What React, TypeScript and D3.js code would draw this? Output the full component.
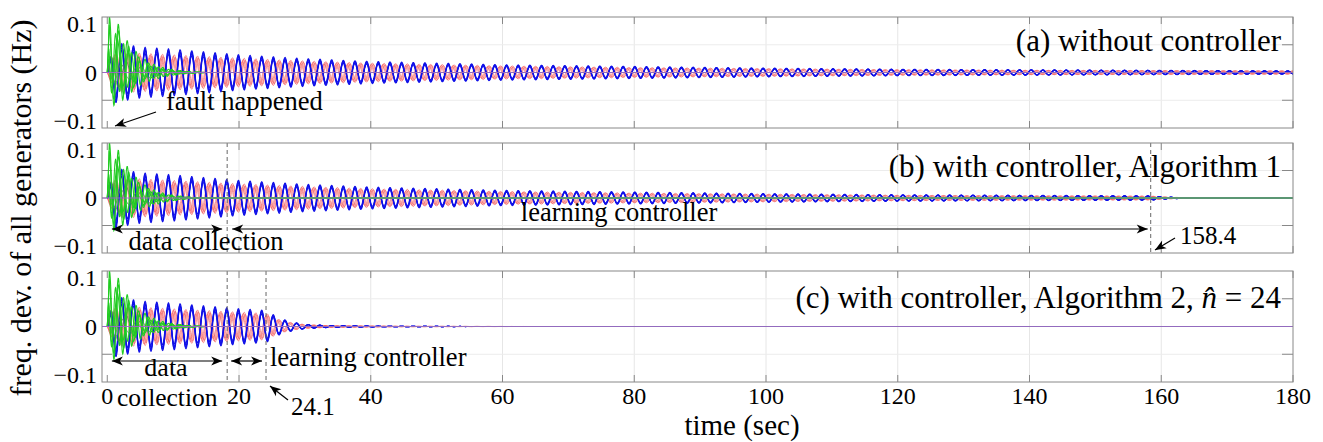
import React, { useEffect, useRef } from "react";
import * as d3 from "d3";

const W = 1323;
const H = 442;

const timeTicks = [0, 20, 40, 60, 80, 100, 120, 140, 160, 180];
const freqTicks = [-0.1, 0, 0.1];
const freqGrid = [-0.05, 0.05];

// envelope of the slow inter-area swing (Hz)
const envTime = [0, 1, 3, 5, 10, 15, 20, 30, 40, 60, 80, 100, 120, 140, 160, 180];
const blueEnv = [0, 0.055, 0.05, 0.046, 0.042, 0.037, 0.032, 0.025, 0.02, 0.014, 0.011, 0.008, 0.006, 0.005, 0.004, 0.003];
const redEnv = [0, 0.035, 0.036, 0.035, 0.032, 0.029, 0.026, 0.021, 0.017, 0.012, 0.009, 0.007, 0.005, 0.004, 0.0035, 0.003];

// fast local modes (green) and the damped grey ones, gone after ~15 s
const greenTime = [0, 0.3, 1.5, 3, 5, 7, 9, 12, 15];
const greenEnv = [0, 0.08, 0.075, 0.05, 0.026, 0.014, 0.007, 0.002, 0];
const greenShift = [0, 0.02, 0.016, 0.008, 0.003, 0.001, 0, 0, 0];
const greyEnv = [0, 0.03, 0.028, 0.02, 0.012, 0.008, 0.004, 0.002, 0];

// decay once the learned controller is switched on (s after switch-on, gain)
const ctrlTime = [0, 2, 4, 6, 10, 20, 40];
const ctrlGain = [1, 0.55, 0.3, 0.16, 0.07, 0.02, 0];

const swingPeriod = 1.77;
const localPeriod = 1.35;

const panelNames = ["(a) without controller", "(b) with controller, Algorithm 1", "(c) with controller, Algorithm 2, "];
const ctrlOn = [null, 158.4, 24.1];
const collectEnd = 18.2;

// several generators per colour group
const bluePhase = [0, 0.1, -0.08, 0.16];
const blueScale = [1, 0.93, 0.86, 0.76];
const redPhase = [0, 0.55, -0.5, 1.0];
const redScale = [1, 0.92, 0.86, 0.76];
const greenPeriod = [1, 1.12, 0.9, 1.25];
const greenPhase = [0, 0.6, 1.3, 2.1];
const greenScale = [1, 0.85, 0.7, 0.6];

const panelBox = [
  { top: 17, bottom: 128 },
  { top: 143, bottom: 253 },
  { top: 271, bottom: 382 },
];

const FONT = "Liberation Serif";

function App() {
  const ref = useRef<SVGSVGElement | null>(null);

  useEffect(() => {
    const svg = d3.select(ref.current);
    svg.selectAll("*").remove();

    const x = d3.scaleLinear().domain([-0.8, 180]).range([102, 1293]);
    const blueA = d3.scaleLinear().domain(envTime).range(blueEnv).clamp(true);
    const redA = d3.scaleLinear().domain(envTime).range(redEnv).clamp(true);
    const greenA = d3.scaleLinear().domain(greenTime).range(greenEnv).clamp(true);
    const greenB = d3.scaleLinear().domain(greenTime).range(greenShift).clamp(true);
    const greyA = d3.scaleLinear().domain(greenTime).range(greyEnv).clamp(true);
    const ctrlA = d3.scaleLinear().domain(ctrlTime).range(ctrlGain).clamp(true);

    const times = d3.range(0, 180.001, 0.05);
    const defs = svg.append("defs");

    panelBox.forEach((box, pi) => {
      const y = d3.scaleLinear().domain([-0.1, 0.1]).range([box.bottom, box.top]);
      const tc = ctrlOn[pi];
      const gain = (t: number) => (tc == null || t < tc ? 1 : ctrlA(t - tc));

      defs
        .append("clipPath")
        .attr("id", `clip${pi}`)
        .append("rect")
        .attr("x", x.range()[0])
        .attr("y", box.top)
        .attr("width", x.range()[1] - x.range()[0])
        .attr("height", box.bottom - box.top);

      const g = svg.append("g");

      // grid
      g.selectAll(".gx")
        .data(timeTicks.filter((d) => d > 0 && d < 180))
        .join("line")
        .attr("x1", (d) => x(d))
        .attr("x2", (d) => x(d))
        .attr("y1", box.top)
        .attr("y2", box.bottom)
        .attr("stroke", "#e6e6e6");
      g.selectAll(".gy")
        .data(freqGrid)
        .join("line")
        .attr("x1", x.range()[0])
        .attr("x2", x.range()[1])
        .attr("y1", (d) => y(d))
        .attr("y2", (d) => y(d))
        .attr("stroke", "#ececec");

      // ticks, inside the box on all sides
      timeTicks.forEach((d) => {
        g.append("line").attr("x1", x(d)).attr("x2", x(d)).attr("y1", box.bottom).attr("y2", box.bottom - 7).attr("stroke", "#888");
        g.append("line").attr("x1", x(d)).attr("x2", x(d)).attr("y1", box.top).attr("y2", box.top + 7).attr("stroke", "#888");
      });
      [...freqGrid, 0].forEach((d) => {
        g.append("line").attr("x1", x.range()[0]).attr("x2", x.range()[0] + 10).attr("y1", y(d)).attr("y2", y(d)).attr("stroke", "#888");
        g.append("line").attr("x1", x.range()[1]).attr("x2", x.range()[1] - 11).attr("y1", y(d)).attr("y2", y(d)).attr("stroke", "#888");
      });

      const plot = g.append("g").attr("clip-path", `url(#clip${pi})`);
      const line = d3.line<number>().x((t) => x(t));

      const w = (2 * Math.PI) / swingPeriod;
      redPhase.forEach((ph, i) => {
        plot
          .append("path")
          .attr("d", line.y((t) => y(gain(t) * redA(t) * redScale[i] * Math.sin(w * t + Math.PI + ph)))(times))
          .attr("fill", "none")
          .attr("stroke", "#f25555")
          .attr("stroke-width", 0.7)
          .attr("opacity", 0.9);
      });
      bluePhase.forEach((ph, i) => {
        plot
          .append("path")
          .attr("d", line.y((t) => y(gain(t) * blueA(t) * blueScale[i] * Math.sin(w * t + ph)))(times))
          .attr("fill", "none")
          .attr("stroke", "#1010e8")
          .attr("stroke-width", 1.1);
      });
      [0, 1].forEach((i) => {
        plot
          .append("path")
          .attr("d", line.y((t) => y(greyA(t) * (i ? 0.6 : 1) * Math.sin(((2 * Math.PI) / 2.3) * t + i * 2)))(times))
          .attr("fill", "none")
          .attr("stroke", "#667766")
          .attr("stroke-width", 1);
      });
      greenPhase.forEach((ph, i) => {
        const wl = (2 * Math.PI) / (localPeriod * greenPeriod[i]);
        plot
          .append("path")
          .attr("d", line.y((t) => y(greenB(t) + greenA(t) * greenScale[i] * Math.sin(wl * t + ph)))(times))
          .attr("fill", "none")
          .attr("stroke", "#22cc22")
          .attr("stroke-width", 1.1);
      });
      plot
        .append("line")
        .attr("x1", x.range()[0])
        .attr("x2", x.range()[1])
        .attr("y1", y(0))
        .attr("y2", y(0))
        .attr("stroke", "#a060d0")
        .attr("stroke-width", 0.9);

      // dashed switching lines
      const marks = pi === 0 ? [] : [collectEnd, tc as number];
      marks.forEach((d) => {
        g.append("line")
          .attr("x1", x(d))
          .attr("x2", x(d))
          .attr("y1", box.top)
          .attr("y2", box.bottom)
          .attr("stroke", "#666")
          .attr("stroke-dasharray", "4,3");
      });

      // frame
      g.append("rect")
        .attr("x", x.range()[0])
        .attr("y", box.top)
        .attr("width", x.range()[1] - x.range()[0])
        .attr("height", box.bottom - box.top)
        .attr("fill", "none")
        .attr("stroke", "#888");

      // y tick labels (nudged inside like the original)
      g.selectAll(".yl")
        .data(freqTicks)
        .join("text")
        .attr("x", 97)
        .attr("y", (d) => y(d) + (d > 0 ? 7 : d < 0 ? -7 : 0))
        .attr("dy", "0.35em")
        .attr("text-anchor", "end")
        .attr("font-family", FONT)
        .attr("font-size", 24)
        .text((d) => (d === 0 ? "0" : d3.format(".1f")(d)));

      // panel title
      const title = g
        .append("text")
        .attr("x", 1281)
        .attr("y", box.top + (pi === 2 ? 37 : 34))
        .attr("text-anchor", "end")
        .attr("font-family", FONT)
        .attr("font-size", 31)
        .text(panelNames[pi]);
      if (pi === 2) {
        title.append("tspan").attr("font-style", "italic").text("n\u0302");
        title.append("tspan").text(" = 24");
      }
    });

    // x tick labels under the last panel
    svg
      .append("g")
      .selectAll("text")
      .data(timeTicks)
      .join("text")
      .attr("x", (d) => x(d))
      .attr("y", 404)
      .attr("text-anchor", "middle")
      .attr("font-family", FONT)
      .attr("font-size", 24)
      .text((d) => String(d));

    const label = (txt: string, px: number, py: number, size: number, anchor = "start") =>
      svg
        .append("text")
        .attr("x", px)
        .attr("y", py)
        .attr("text-anchor", anchor)
        .attr("font-family", FONT)
        .attr("font-size", size)
        .text(txt);

    label("time (sec)", 742, 435, 29, "middle");
    svg
      .append("text")
      .attr("transform", "translate(31,208) rotate(-90)")
      .attr("text-anchor", "middle")
      .attr("font-family", FONT)
      .attr("font-size", 30)
      .text("freq. dev. of all generators (Hz)");

    // arrows
    const head = (hx: number, hy: number, fromX: number, fromY: number) => {
      const a = Math.atan2(hy - fromY, hx - fromX);
      const L = 11;
      const h = 4.5;
      const p = (dx: number, dy: number) =>
        [hx + dx * Math.cos(a) - dy * Math.sin(a), hy + dx * Math.sin(a) + dy * Math.cos(a)].join(",");
      svg.append("path").attr("d", `M${p(0, 0)}L${p(-L, -h)}L${p(-L + 3, 0)}L${p(-L, h)}Z`).attr("fill", "#000");
    };
    const arrow = (x1: number, y1: number, x2: number, y2: number, both: boolean) => {
      svg.append("line").attr("x1", x1).attr("y1", y1).attr("x2", x2).attr("y2", y2).attr("stroke", "#000").attr("stroke-width", 1.2);
      head(x2, y2, x1, y1);
      if (both) head(x1, y1, x2, y2);
    };

    // (a)
    label("fault happened", 166, 110, 26.5);
    arrow(156, 112, 115, 126, false);

    // (b)
    const yb = 229;
    arrow(x(0.7), yb, x(collectEnd) - 5, yb, true);
    arrow(x(collectEnd) + 5, yb, x(158.4) - 3, yb, true);
    label("data collection", 206, 250, 26.5, "middle");
    label("learning controller", 619, 221, 26.5, "middle");
    label("158.4", 1180, 244, 25);
    arrow(1175, 238, 1155, 250, false);

    // (c)
    const yc = 361;
    arrow(x(0.7), yc, x(collectEnd) - 5, yc, true);
    arrow(x(collectEnd) + 4, yc, x(24.1) - 4, yc, true);
    label("data", 166, 376, 26, "middle");
    label("learning controller", 270, 366, 26.5);
    label("collection", 117, 406, 25.5);
    label("24.1", 291, 415, 25);
    arrow(288, 400, 270, 386, false);
  }, []);

  return (
    <svg
      ref={ref}
      width={W}
      height={H}
      style={{ position: "absolute", left: 0, top: 0, background: "#fff" }}
    />
  );
}

export default App;
